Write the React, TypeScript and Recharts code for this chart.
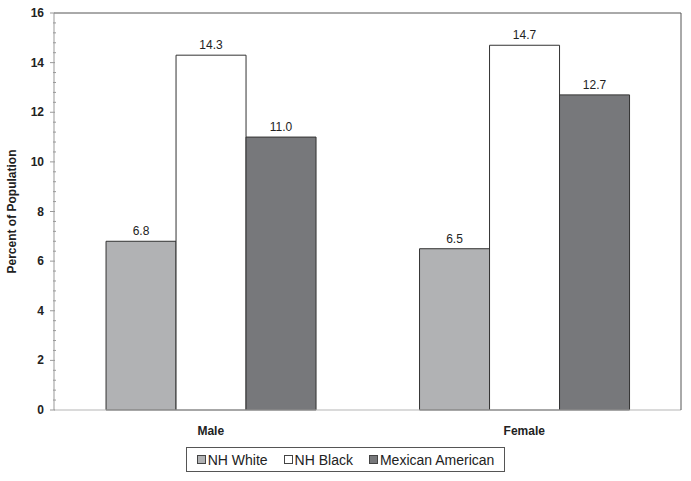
import {
  BarChart,
  Bar,
  XAxis,
  YAxis,
  Legend,
  LabelList,
  ReferenceLine,
} from "recharts";

const sexes = ["Male", "Female"];
const nhWhite = [6.8, 6.5];
const nhBlack = [14.3, 14.7];
const mexicanAmerican = [11.0, 12.7];
const yTicks = Array.from({ length: 41 }, (_, i) => Math.round(i * 4) / 10);

const seriesInfo = [
  { key: "white", name: "NH White", color: "#b1b2b4" },
  { key: "black", name: "NH Black", color: "#ffffff" },
  { key: "mex", name: "Mexican American", color: "#77787b" },
];

const font = "Arial, 'Liberation Sans', sans-serif";
const axisColor = "#999";
const borderColor = "#555";

const chartData = sexes.map((sex, i) => ({
  sex,
  white: nhWhite[i],
  black: nhBlack[i],
  mex: mexicanAmerican[i],
}));

function YTick({ x, y, payload }: any) {
  const v = payload.value as number;
  const major = Math.abs(v / 2 - Math.round(v / 2)) < 1e-6;
  return (
    <g>
      {major ? (
        <>
          <line x1={x + 4} x2={x + 9} y1={y} y2={y} stroke={axisColor} />
          <text
            x={x - 2}
            y={y}
            dy={4}
            textAnchor="end"
            fontSize={12}
            fontWeight="bold"
            fontFamily={font}
            fill="#222"
          >
            {v}
          </text>
        </>
      ) : (
        <line x1={x + 7} x2={x + 10} y1={y} y2={y} stroke={axisColor} />
      )}
    </g>
  );
}

function LegendBox() {
  return (
    <div style={{ display: "flex", justifyContent: "center" }}>
      <div
        style={{
          border: "1px solid #555",
          height: 23,
          padding: "0 10px",
          display: "flex",
          alignItems: "center",
          gap: 16,
          fontFamily: font,
          fontSize: 14,
          color: "#222",
        }}
      >
        {seriesInfo.map((s) => (
          <span key={s.key} style={{ display: "flex", alignItems: "center" }}>
            <span
              style={{
                width: 7,
                height: 7,
                background: s.color,
                border: "1px solid #444",
                marginRight: 2,
              }}
            />
            {s.name}
          </span>
        ))}
      </div>
    </div>
  );
}

export default function App() {
  return (
    <div style={{ position: "absolute", left: 0, top: 0, background: "#fff" }}>
      <BarChart
        width={691}
        height={481}
        data={chartData}
        margin={{ top: 13, right: 0, left: 0, bottom: 16 }}
        barCategoryGap="16.6%"
        barGap={0}
      >
        <XAxis
          xAxisId="sep"
          type="number"
          domain={[0, 2]}
          ticks={[1]}
          height={0}
          axisLine={false}
          tick={false}
          tickSize={3}
          stroke={axisColor}
        />
        <XAxis
          xAxisId="cat"
          dataKey="sex"
          height={30}
          stroke="#b5b5b5"
          tickLine={false}
          tickMargin={10}
          tick={{ fontSize: 12, fontWeight: "bold", fill: "#222", fontFamily: font }}
        />
        <YAxis
          yAxisId="left"
          width={54}
          domain={[0, 16]}
          ticks={yTicks}
          interval={0}
          stroke={axisColor}
          tickLine={false}
          tick={<YTick />}
          label={{
            value: "Percent of Population",
            angle: -90,
            position: "insideLeft",
            offset: 12,
            style: {
              textAnchor: "middle",
              fontSize: 12,
              fontWeight: "bold",
              fill: "#222",
              fontFamily: font,
            },
          }}
        />
        <YAxis
          yAxisId="right"
          orientation="right"
          width={10}
          domain={[0, 16]}
          stroke={borderColor}
          tick={false}
          tickLine={false}
        />
        <ReferenceLine yAxisId="left" xAxisId="cat" y={16} stroke={borderColor} />
        <Legend
          verticalAlign="bottom"
          height={25}
          wrapperStyle={{ bottom: 9 }}
          content={<LegendBox />}
        />
        {seriesInfo.map((s) => (
          <Bar
            key={s.key}
            xAxisId="cat"
            yAxisId="left"
            dataKey={s.key}
            name={s.name}
            fill={s.color}
            stroke="#333"
            strokeWidth={1}
            isAnimationActive={false}
          >
            <LabelList
              dataKey={s.key}
              position="top"
              offset={6}
              formatter={(v: any) => Number(v).toFixed(1)}
              style={{ fontSize: 12, fill: "#222", fontFamily: font }}
            />
          </Bar>
        ))}
      </BarChart>
    </div>
  );
}
